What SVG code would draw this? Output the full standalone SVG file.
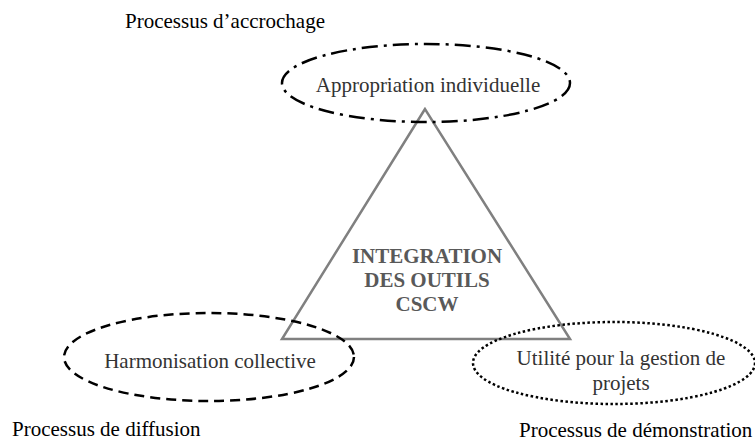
<svg xmlns="http://www.w3.org/2000/svg" width="755" height="441" viewBox="0 0 755 441">
<style>
.lbl{font-family:"Liberation Serif","Times New Roman",serif;font-size:21px;fill:#000}
.nt{font-family:"Liberation Serif","Times New Roman",serif;font-size:21px;fill:#333;text-anchor:middle}
.ctr{font-family:"Liberation Serif","Times New Roman",serif;font-size:21px;font-weight:bold;fill:#595959;text-anchor:middle}
.ell{fill:none;stroke:#000;stroke-width:2.5}
</style>
<rect width="755" height="441" fill="#fff"/>
<g id="triangle">
<polygon points="425,109 282,339 570,339" fill="#fff" stroke="#808080" stroke-width="2.5"/>
<text class="ctr" x="427" y="263">INTEGRATION</text>
<text class="ctr" x="427" y="287">DES OUTILS</text>
<text class="ctr" x="427" y="311">CSCW</text>
</g>
<g id="appropriation">
<ellipse class="ell" cx="426" cy="83" rx="144" ry="39" stroke-dasharray="16 6 3 6"/>
<text class="nt" x="428" y="92">Appropriation individuelle</text>
</g>
<g id="harmonisation">
<ellipse class="ell" cx="209" cy="357" rx="145" ry="44" stroke-dasharray="10 6"/>
<text class="nt" x="210" y="368">Harmonisation collective</text>
</g>
<g id="utilite">
<ellipse class="ell" cx="614" cy="363" rx="141" ry="41" stroke-dasharray="2.5 2.5"/>
<text class="nt" x="621" y="365">Utilité pour la gestion de</text>
<text class="nt" x="621" y="390">projets</text>
</g>
<g id="labels">
<text class="lbl" x="125" y="28">Processus d’accrochage</text>
<text class="lbl" x="12" y="436">Processus de diffusion</text>
<text class="lbl" x="519" y="437">Processus de démonstration</text>
</g>
</svg>
